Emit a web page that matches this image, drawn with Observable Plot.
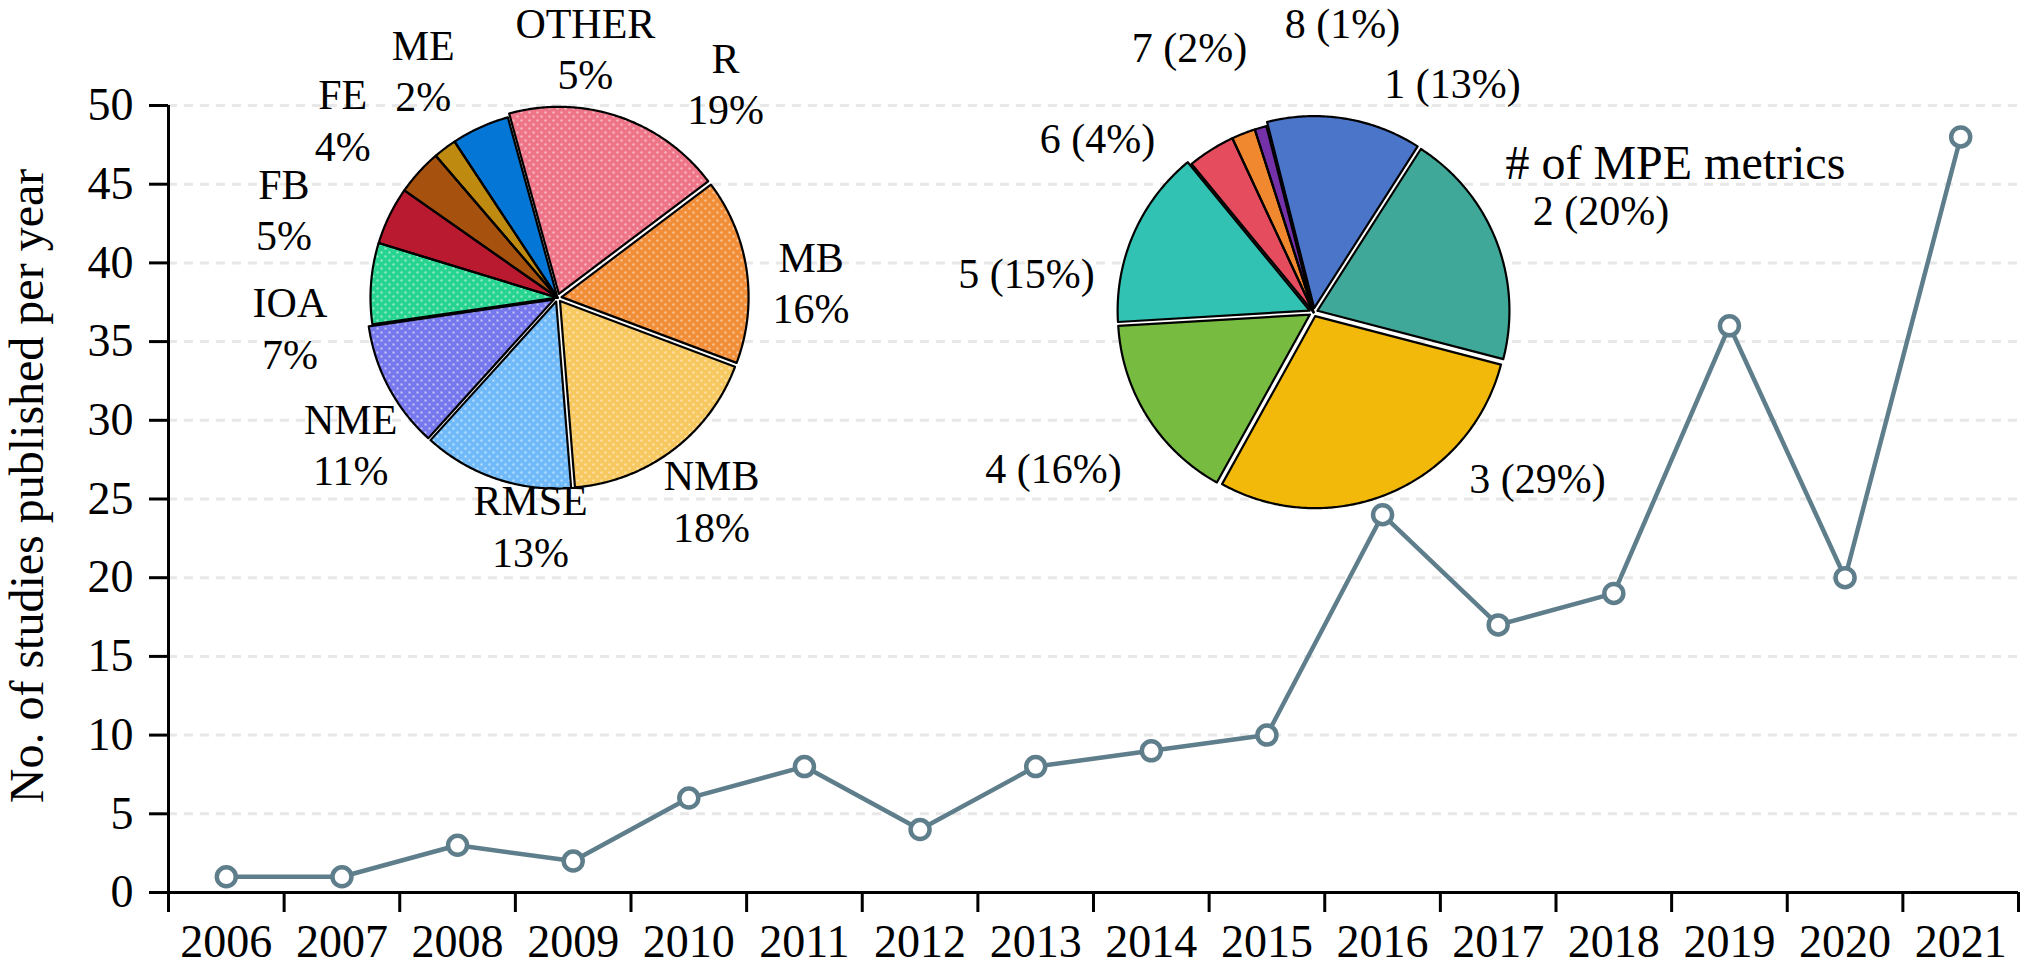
<!DOCTYPE html>
<html>
<head>
<meta charset="utf-8">
<script src="https://cdn.jsdelivr.net/npm/d3@7"></script>
<script src="https://cdn.jsdelivr.net/npm/@observablehq/plot@0.6"></script>
<style>
  body { margin: 0; background: white; }
  #wrap { position: relative; width: 2021px; height: 970px; overflow: hidden; }
  #wrap svg { position: absolute; overflow: visible; }
</style>
</head>
<body>
<div id="wrap"></div>
<script>
  // line chart: studies per year
  const years = [2006, 2007, 2008, 2009, 2010, 2011, 2012, 2013, 2014, 2015, 2016, 2017, 2018, 2019, 2020, 2021];
  const counts = [1, 1, 3, 2, 6, 8, 4, 8, 9, 10, 24, 17, 19, 36, 20, 48];
  const yTicks = [0, 5, 10, 15, 20, 25, 30, 35, 40, 45, 50];
  const yLabel = "No. of studies published per year";

  // left pie: metrics used
  const metricNames = ["R", "MB", "NMB", "RMSE", "NME", "IOA", "FB", "FE", "ME", "OTHER"];
  const metricShares = [19, 16, 18, 13, 11, 7, 5, 4, 2, 5];
  const metricColors = ["#ee7488", "#f28e38", "#f7c85f", "#70bafa", "#7878ee", "#26d48f", "#ba1a30", "#a6520e", "#be8a10", "#0476d5"];

  // right pie: number of MPE metrics per study
  const countNames = ["1", "2", "3", "4", "5", "6", "7", "8"];
  const countShares = [13, 20, 29, 16, 15, 4, 2, 1];
  const countColors = ["#4a75c9", "#40a898", "#f2b90a", "#77bb41", "#31c2b4", "#e54d5f", "#f0882f", "#7532a8"];
  const countTitle = "# of MPE metrics";

  const lineColor = "#5f7e8b";
  const font = "Liberation Serif";
  const wrap = document.getElementById("wrap");

  const rows = years.map((year, i) => ({year, count: counts[i]}));
  const bounds = years.map(y => y - 0.5).concat(years[years.length - 1] + 0.5);

  const chart = Plot.plot({
    width: 2021,
    height: 970,
    marginTop: 105,
    marginBottom: 78,
    marginLeft: 168,
    marginRight: 3,
    style: {fontFamily: font, background: "transparent", color: "black"},
    x: {domain: [bounds[0], bounds[bounds.length - 1]]},
    y: {domain: [0, 50]},
    marks: [
      Plot.gridY(yTicks.filter(d => d > 0), {stroke: "#e8e8e8", strokeOpacity: 1, strokeWidth: 3, strokeDasharray: "9,7"}),
      Plot.axisY(yTicks, {anchor: "left", tickSize: 19, tickPadding: 16, fontSize: 46, strokeWidth: 3, label: null, tickFormat: d => String(d)}),
      Plot.axisX(bounds, {anchor: "bottom", tickSize: 20, strokeWidth: 3, label: null, tickFormat: () => ""}),
      Plot.axisX(years, {anchor: "bottom", tickSize: 0, tickPadding: 32, fontSize: 46, label: null, tickFormat: d => String(d)}),
      Plot.ruleX([bounds[0]], {y1: 0, y2: 50, strokeWidth: 3}),
      Plot.ruleY([0], {strokeWidth: 3, insetLeft: -18}),
      Plot.line(rows, {x: "year", y: "count", stroke: lineColor, strokeWidth: 4.5}),
      Plot.dot(rows, {x: "year", y: "count", r: 9.5, fill: "white", stroke: lineColor, strokeWidth: 4.5}),
      Plot.text([yLabel], {text: d => d, frameAnchor: "left", textAnchor: "middle", lineAnchor: "middle", rotate: -90, dx: -141, dy: -13, fontSize: 48})
    ]
  });
  wrap.append(chart);

  // polygon outline of each slice, from d3.pie angles (0 = 12 o'clock, clockwise)
  function sliceRows(names, values, startDeg, exploded, off) {
    const a0 = startDeg * Math.PI / 180;
    const arcs = d3.pie().sort(null).startAngle(a0).endAngle(a0 + 2 * Math.PI)(values);
    const out = [];
    arcs.forEach((a, i) => {
      const name = names[i];
      const mid = (a.startAngle + a.endAngle) / 2;
      const e = exploded.includes(name) ? off : 0;
      const ox = e * Math.sin(mid), oy = -e * Math.cos(mid);
      const n = Math.max(4, Math.ceil((a.endAngle - a.startAngle) / 0.01));
      out.push({name, x: ox, y: oy});
      for (let k = 0; k <= n; k++) {
        const t = a.startAngle + (a.endAngle - a.startAngle) * k / n;
        out.push({name, x: ox + Math.sin(t), y: oy - Math.cos(t)});
      }
      out.push({name, x: ox, y: oy});
    });
    return out;
  }

  function pie({names, values, colors, start, exploded, hatched, labels, rx, ry, xDomain, yDomain, cx, cy, extra}) {
    const color = Object.fromEntries(names.map((n, i) => [n, colors[i]]));
    const poly = sliceRows(names, values, start, exploded, 0.022);
    const width = (xDomain[1] - xDomain[0]) * rx;
    const height = (yDomain[1] - yDomain[0]) * ry;
    const svg = Plot.plot({
      width, height,
      margin: 0,
      style: {fontFamily: font, background: "transparent", color: "black"},
      x: {domain: xDomain, range: [0, width], axis: null},
      y: {domain: yDomain, range: [0, height], axis: null},
      color: {type: "identity"},
      marks: [
        Plot.line(poly, {x: "x", y: "y", z: "name", fill: d => color[d.name], stroke: "none"}),
        Plot.line(poly.filter(d => hatched.includes(d.name)), {x: "x", y: "y", z: "name", fill: "url(#dots)", stroke: "none"}),
        Plot.line(poly, {x: "x", y: "y", z: "name", stroke: "black", strokeWidth: 2.2, strokeLinejoin: "round"}),
        Plot.text(labels, {x: "x", y: "y", text: "text", fontSize: 42, lineHeight: 1.23, fill: "black"}),
        ...(extra || [])
      ]
    });
    svg.style.left = (cx + xDomain[0] * rx) + "px";
    svg.style.top = (cy + yDomain[0] * ry) + "px";
    return svg;
  }

  // label anchors, in radius units from the pie centre
  const metricLabelPos = [[0.899, -1.154], [1.356, -0.09], [0.824, 1.08], [-0.144, 1.213], [-1.106, 0.777],
    [-1.431, 0.154], [-1.463, -0.479], [-1.149, -0.957], [-0.718, -1.223], [0.149, -1.34]];
  const countLabelPos = [[0.724, -1.203], [1.497, -0.542], [1.167, 0.854], [-1.354, 0.802],
    [-1.495, -0.214], [-1.125, -0.917], [-0.646, -1.389], [0.151, -1.515]];
  const countTitlePos = [1.885, -0.776];

  const leftPie = pie({
    names: metricNames, values: metricShares, colors: metricColors, start: -15.4,
    exploded: ["R", "MB", "NMB", "RMSE", "NME"],
    hatched: ["R", "MB", "NMB", "RMSE", "NME", "IOA"],
    labels: metricNames.map((n, i) => ({text: n + "\n" + metricShares[i] + "%", x: metricLabelPos[i][0], y: metricLabelPos[i][1]})),
    rx: 187, ry: 187, xDomain: [-2, 2], yDomain: [-1.6, 1.6], cx: 557, cy: 297
  });
  wrap.append(leftPie);

  // white dot hatch used by the left pie
  const defs = d3.select(leftPie).insert("defs", ":first-child");
  const pat = defs.append("pattern").attr("id", "dots").attr("patternUnits", "userSpaceOnUse")
    .attr("width", 8).attr("height", 8);
  pat.append("circle").attr("cx", 2).attr("cy", 2).attr("r", 0.9).attr("fill", "white").attr("fill-opacity", 0.85);
  pat.append("circle").attr("cx", 6).attr("cy", 6).attr("r", 0.9).attr("fill", "white").attr("fill-opacity", 0.85);

  const rightPie = pie({
    names: countNames, values: countShares, colors: countColors, start: -14.2,
    exploded: ["1", "2", "3", "4", "5"],
    hatched: [],
    labels: countNames.map((n, i) => ({text: n + " (" + countShares[i] + "%)", x: countLabelPos[i][0], y: countLabelPos[i][1]})),
    rx: 192, ry: 192, xDomain: [-2.0, 2.9], yDomain: [-1.65, 1.3], cx: 1313, cy: 312,
    extra: [Plot.text([countTitle], {text: d => d, x: countTitlePos[0], y: countTitlePos[1], fontSize: 48, fill: "black"})]
  });
  wrap.append(rightPie);
</script>
</body>
</html>
